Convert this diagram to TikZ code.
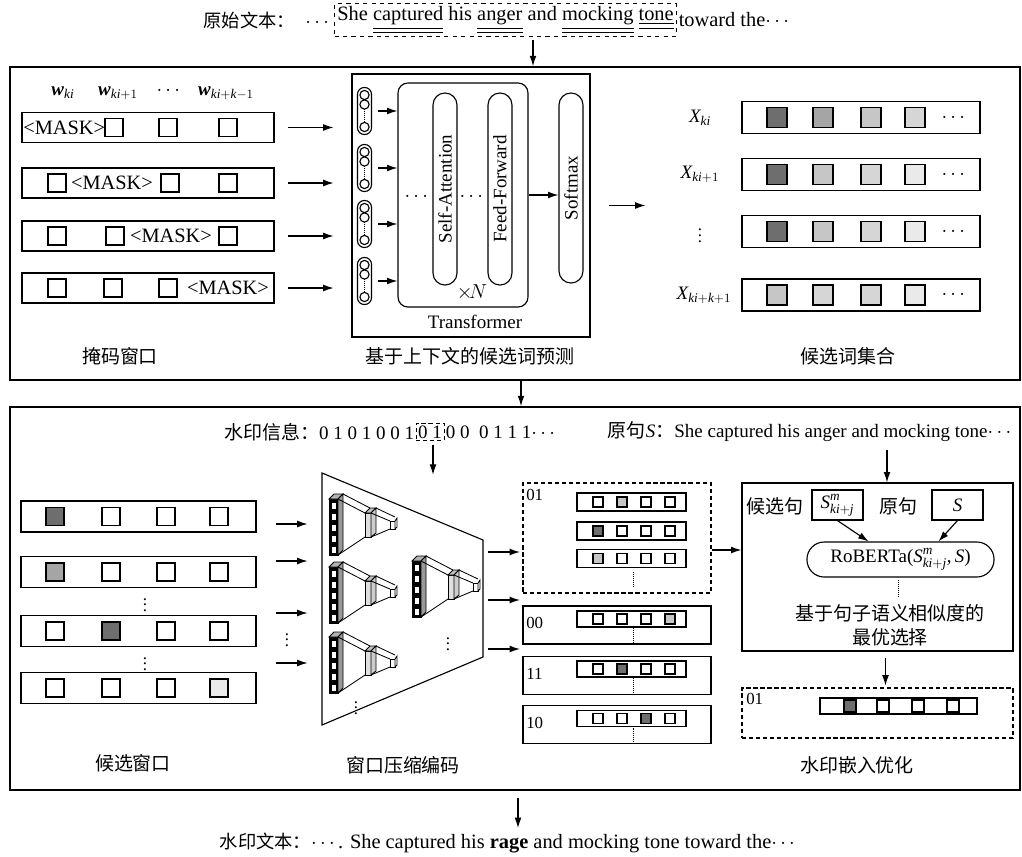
\documentclass[tikz,border=0pt]{standalone}
\usepackage{amsmath,amssymb}
\usepackage{fontspec}
\setmainfont{Liberation Serif}
\newfontfamily\zh{Noto Sans CJK SC}
\usetikzlibrary{positioning,arrows.meta}
\definecolor{gfonce}{RGB}{110,110,110}
\definecolor{gmoyen}{RGB}{165,165,165}
\definecolor{gclair}{RGB}{198,198,198}
\definecolor{gpale}{RGB}{214,214,214}
\definecolor{gblanc}{RGB}{234,234,234}
\newcommand\fn{\fontsize{13.5}{17}\selectfont}
\newcommand\tfn{\fontsize{14.5}{17}\selectfont}
\newcommand\mfn{\fontsize{14.5}{17}\selectfont}
\newcommand\sfn{\fontsize{12}{14}\selectfont}
\newcommand\uu[1]{\underline{\underline{#1}}}
\newcommand\smj{\textit{S}^{\textit{m}}_{\textit{ki}+\textit{j}}}
\newcommand\funnel[2]{%
\begin{scope}[shift={(#1,#2)}, line width=0.6pt]
  \draw[fill=black] (0,-26) rectangle (9,30);
  \foreach \v in {-19,-8,3,14,25} \draw[fill=white] (2,\v-4) rectangle (7,\v+3);
  \draw[fill=gray!60] (0,-26) -- (5,-31) -- (14,-31) -- (9,-26) -- cycle;
  \draw[fill=gray!80] (9,-26) -- (14,-31) -- (14,25) -- (9,30) -- cycle;
  \draw (14,-31) -- (41,-17) (9,-26) -- (36,-12) (9,30) -- (36,12);
  \draw[fill=gray!25] (36,-12) rectangle (42,12);
  \draw[fill=gray!50] (36,-12) -- (41,-17) -- (47,-17) -- (42,-12) -- cycle;
  \draw[fill=gray!40] (42,-12) -- (47,-17) -- (47,8) -- (42,12) -- cycle;
  \draw (47,-17) -- (66,-8) (42,-12) -- (61,-4) (42,12) -- (61,4);
  \draw[fill=white] (61,-4) rectangle (66,4);
  \draw[fill=white] (66,-4) -- (68,-7) -- (68,2) -- (66,4) -- cycle;
\end{scope}}

\begin{document}
\begin{tikzpicture}[x=0.025cm, y=-0.025cm, font=\fn,
  frame/.style={draw, line width=1.1pt, inner sep=0pt},
  win/.style={draw, thick, inner sep=0pt},
  sq/.style={draw, thick, fill=#1, minimum size=0.45cm, inner sep=0pt},
  sq/.default=white,
  pill/.style={draw, thick, rounded corners=0.3cm, inner sep=0pt},
  zhl/.style={font=\zh\fn},
  vd/.style={inner sep=0pt, font=\sfn},
  arr/.style={thick, -{Latex[length=2.6mm,width=1.7mm]}}]
\useasboundingbox (0,0) rectangle (1022,857);

% texte original
\node[draw, dashed, thick, inner sep=2pt, anchor=west, font=\tfn] (orig) at (334,20) {She \uu{captured} his \uu{anger} and \uu{mocking} \uu{tone}};
\node[anchor=east, inner sep=1pt, font=\tfn] (origl) at (orig.west) {{\zh\fontsize{13}{16}\selectfont 原始文本：}\ \ $\cdots$};
\node[anchor=west, inner sep=1pt, font=\tfn] (origr) at (orig.east) {toward the$\cdots$};
\coordinate (t0) at (533,40);
\node[frame, minimum width=25.25cm, minimum height=7.825cm] (b1) at (515,223.5) {};
\draw[arr] (t0) -- (t0 |- b1.north);

% fenetres de masquage
\node (h1) at (63,93) {$\textbf{\textit{w}}_{\textit{ki}}$};
\node (h2) at (118,93) {$\textbf{\textit{w}}_{\textit{ki}+1}$};
\node (h3) at (170,91) {$\cdots$};
\node (h4) at (226,93) {$\textbf{\textit{w}}_{\textit{ki}+\textit{k}-1}$};
\foreach \i/\y in {1/127.5,2/183,3/236,4/288}
  \node[win, minimum width=6.3cm, minimum height=0.75cm] (m\i) at (148,\y) {};
\node[font=\mfn, anchor=west, inner sep=0pt] (m1t) at (23,127.5) {<MASK>};
\foreach \x [count=\j] in {114,168,228} \node[sq] (m1s\j) at (\x,127.5) {};
\node[font=\mfn] (m2t) at (112,183) {<MASK>};
\foreach \x [count=\j] in {57,170,228} \node[sq] (m2s\j) at (\x,183) {};
\node[font=\mfn] (m3t) at (171,236) {<MASK>};
\foreach \x [count=\j] in {57,115,228} \node[sq] (m3s\j) at (\x,236) {};
\node[font=\mfn] (m4t) at (228,288) {<MASK>};
\foreach \x [count=\j] in {57,113,168} \node[sq] (m4s\j) at (\x,288) {};
\foreach \i in {1,...,4} \draw[arr] (m\i.east) ++(13,0) -- ++(46,0);

% transformer
\node[win, minimum width=5.95cm, minimum height=6.575cm] (tb) at (471,205.5) {};
\node[draw, thick, rounded corners=0.25cm, minimum width=3.25cm, minimum height=5.6cm] (tin) at (463,195) {};
\foreach \i/\y in {1/111,2/168,3/224,4/281} {
  \node[draw, thick, rounded corners=0.17cm, minimum width=0.35cm, minimum height=1.175cm] (g\i) at (364.5,\y) {};
  \draw[thick] (364.5,\y-16) circle[radius=0.115cm] (364.5,\y-6.5) circle[radius=0.115cm] (364.5,\y+16) circle[radius=0.115cm];
  \draw[densely dotted] (364.5,\y-2) -- (364.5,\y+11);
  \draw[arr] (g\i.east) ++(6,0) -- (g\i.east -| tin.west);
}
\node[pill, rotate=90, minimum width=4.8cm, minimum height=0.6cm] (sa) at (445,189) {Self-Attention};
\node[pill, rotate=90, minimum width=4.8cm, minimum height=0.6cm] (ff) at (500,189) {Feed-Forward};
\node[pill, rotate=90, minimum width=4.75cm, minimum height=0.6cm] (sm) at (571,188) {Softmax};
\node (td1) at (418,197) {$\cdots$};
\node (td2) at (473,197) {$\cdots$};
\node (xn) at (472,292) {$\times\!N$};
\draw[arr] (tin.east) -- (tin.east -| sm.north);
\node (tf) at (475,322) {Transformer};
\draw[arr] (tb.east) ++(18,0) -- ++(37,0);

% ensemble des candidats
\foreach \i/\y in {1/117.5,2/174.5,3/231.5,4/295} {
  \node[win, minimum width=5.95cm, minimum height=0.8cm] (c\i) at (861,\y) {};
  \node (c\i d) at (955,\y) {$\cdots$};
}
\foreach \x/\c [count=\j] in {777/gfonce,823/gmoyen,871/gclair,915/gpale}
  \node[sq=\c, minimum size=0.5cm] (c1s\j) at (\x,117.5) {};
\foreach \x/\c [count=\j] in {777/gfonce,823/gclair,871/gpale,915/gblanc}
  \node[sq=\c, minimum size=0.5cm] (c2s\j) at (\x,174.5) {};
\foreach \x/\c [count=\j] in {777/gfonce,823/gclair,871/gpale,915/gblanc}
  \node[sq=\c, minimum size=0.5cm] (c3s\j) at (\x,231.5) {};
\foreach \x/\c [count=\j] in {777/gclair,823/gpale,871/gpale,915/gblanc}
  \node[sq=\c, minimum size=0.5cm] (c4s\j) at (\x,295) {};
\node (x1) at (700,117.5) {$\textit{X}_{\textit{ki}}$};
\node (x2) at (700,174.5) {$\textit{X}_{\textit{ki}+1}$};
\node[vd] (x3) at (700,231.5) {$\vdots$};
\node (x4) at (704,295) {$\textit{X}_{\textit{ki}+\textit{k}+1}$};

\node[zhl] (l1) at (120,356) {掩码窗口};
\node[zhl] (l2) at (470,356) {基于上下文的候选词预测};
\node[zhl] (l3) at (848,356) {候选词集合};

\node[frame, minimum width=25.25cm, minimum height=9.575cm] (b2) at (515,598.5) {};
\coordinate (k0) at (521,0);
\draw[arr] (b1.south -| k0) -- (b2.north -| k0);

% information de filigrane
\node[draw, densely dashed, inner sep=1.5pt] (wm01) at (430,432) {0 1};
\node[anchor=east, inner sep=1pt] (wml) at (wm01.west) {{\zh 水印信息：}0 1 0 1 0 0 1};
\node[anchor=west, inner sep=1pt] (wmr) at (wm01.east) {0 0 \ 0 1 1 1$\cdots$};
\draw[arr] (wm01.south) ++(3,4) -- ++(0,30);
\node[anchor=west] (srcS) at (603,432) {{\zh 原句}$\textit{S}${\zh ：}She captured his anger and mocking tone$\cdots$};

% fenetres candidates
\foreach \i/\y in {1/516.5,2/572,3/631,4/688}
  \node[win, minimum width=5.875cm, minimum height=0.775cm] (w\i) at (138.5,\y) {};
\foreach \x/\c [count=\j] in {55/gfonce,111/white,166/white,219/white} \node[sq=\c] (w1s\j) at (\x,516.5) {};
\foreach \x/\c [count=\j] in {55/gmoyen,111/white,166/white,219/white} \node[sq=\c] (w2s\j) at (\x,572) {};
\foreach \x/\c [count=\j] in {55/white,111/gfonce,166/white,219/white} \node[sq=\c] (w3s\j) at (\x,631) {};
\foreach \x/\c [count=\j] in {55/white,111/white,166/white,219/gblanc} \node[sq=\c] (w4s\j) at (\x,688) {};
\node[vd] (wd1) at (145,601) {$\vdots$};
\node[vd] (wd2) at (145,660) {$\vdots$};
\draw[arr] (w1.east) ++(19,7.5) -- ++(32,0);
\draw[arr] (w2.east) ++(19,-11) -- ++(32,0);
\draw[arr] (w3.east) ++(19,-18) -- ++(32,0);
\draw[arr] (w4.east) ++(19,-25) -- ++(32,0);
\node[vd] (wd3) at (287,636) {$\vdots$};

% compression
\draw[thick] (322,473) -- (483,540) -- (483,657) -- (322,725) -- cycle;
\funnel{329}{525}
\funnel{329}{593}
\funnel{329}{663}
\funnel{412}{587}
\node[vd] (zd1) at (356,704) {$\vdots$};
\node[vd] (zd2) at (448,640) {$\vdots$};
\coordinate (z1) at (488,552);
\coordinate (z2) at (488,600);
\coordinate (z3) at (488,649);
\foreach \k in {1,2,3} \draw[arr] (z\k) -- ++(32,0);

% groupes
\node[draw, densely dashed, thick, minimum width=4.7cm, minimum height=2.75cm] (g01) at (617,538) {};
\node[anchor=north west, font=\sfn, inner sep=0pt] (g01t) at (526,489) {01};
\foreach \y/\n in {502/a,531/b,558.5/c}
  \node[win, minimum width=2.725cm, minimum height=0.45cm] (r\n) at (631.5,\y) {};
\foreach \x/\c [count=\j] in {598/white,622/gclair,646/white,670/white} \node[sq=\c, minimum size=0.25cm] (ra\j) at (\x,502) {};
\foreach \x/\c [count=\j] in {598/gfonce,622/white,646/white,670/white} \node[sq=\c, minimum size=0.25cm] (rb\j) at (\x,531) {};
\foreach \x/\c [count=\j] in {598/gclair,622/white,646/white,670/white} \node[sq=\c, minimum size=0.25cm] (rc\j) at (\x,558.5) {};
\draw[densely dotted] (633,572) -- (633,586);
\foreach \n/\y/\r in {00/625/619,11/675.5/669,10/724.5/718.5} {
  \node[win, minimum width=4.7cm, minimum height=0.95cm] (g\n) at (617,\y) {};
  \node[anchor=west, font=\sfn, inner sep=0pt] (g\n t) at (526,\y-2) {\n};
  \node[win, minimum width=2.725cm, minimum height=0.4cm] (r\n) at (631.5,\r) {};
  \draw[densely dotted] (633,\r+9) -- (633,\y+18);
}
\foreach \x/\c [count=\j] in {598/white,622/white,646/white,670/gclair} \node[sq=\c, minimum size=0.25cm] (r00s\j) at (\x,619) {};
\foreach \x/\c [count=\j] in {598/white,622/gfonce,646/white,670/white} \node[sq=\c, minimum size=0.25cm] (r11s\j) at (\x,669) {};
\foreach \x/\c [count=\j] in {598/white,622/white,646/gfonce,670/white} \node[sq=\c, minimum size=0.25cm] (r10s\j) at (\x,718.5) {};

% optimisation
\node[win, minimum width=6.775cm, minimum height=4.2cm] (rb) at (877.5,567) {};
\draw[arr] ([yshift=-0.3cm]g01.east) -- ([yshift=-0.3cm]g01.east -| rb.west);
\coordinate (s0) at (887,450);
\draw[arr] (s0) -- (s0 |- rb.north);
\node[zhl] (cand) at (775,506) {候选句};
\node[win, minimum width=1.275cm, minimum height=0.75cm] (smb) at (837.5,505) {$\smj$};
\node[zhl] (yj) at (898,506) {原句};
\node[win, minimum width=1.275cm, minimum height=0.75cm] (sb) at (957.5,505) {$\textit{S}$};
\node[pill, rounded corners=0.43cm, minimum width=4.675cm, minimum height=0.875cm] (rob) at (900.5,559.5) {RoBERTa($\smj$,\,$\textit{S}$)};
\draw[arr] (smb.south) -- ([xshift=-0.8cm]rob.north);
\draw[arr] (sb.south) -- ([xshift=0.95cm]rob.north);
\draw[densely dotted] (898,580) -- (898,596);
\node[zhl, align=center] (opt) at (890,625) {基于句子语义相似度的\\最优选择};
\node[draw, densely dashed, thick, minimum width=6.775cm, minimum height=1.25cm] (fin) at (877.5,713) {};
\draw[arr] ([xshift=0.2cm]rb.south) ++(0,6) -- ++(0,28);
\node[anchor=north west, font=\sfn, inner sep=0pt] (fint) at (746,693) {01};
\node[win, minimum width=3.925cm, minimum height=0.4cm] (finr) at (898.5,706) {};
\foreach \x/\c [count=\j] in {850/gfonce,883/white,918/white,953/white} \node[sq=\c, minimum size=0.3cm] (fs\j) at (\x,706) {};

\node[zhl] (l4) at (133,763) {候选窗口};
\node[zhl] (l5) at (403,765) {窗口压缩编码};
\node[zhl] (l6) at (857,765) {水印嵌入优化};

% texte filigrane
\node[font=\tfn] (wmt) at (509,843) {{\zh\fontsize{13}{16}\selectfont 水印文本：}$\cdots$. She captured his \textbf{rage} and mocking tone toward the$\cdots$};
\coordinate (k1) at (518,0);
\draw[arr] (b2.south -| k1) ++(0,7) -- (wmt.north -| k1);
\end{tikzpicture}
\end{document}
